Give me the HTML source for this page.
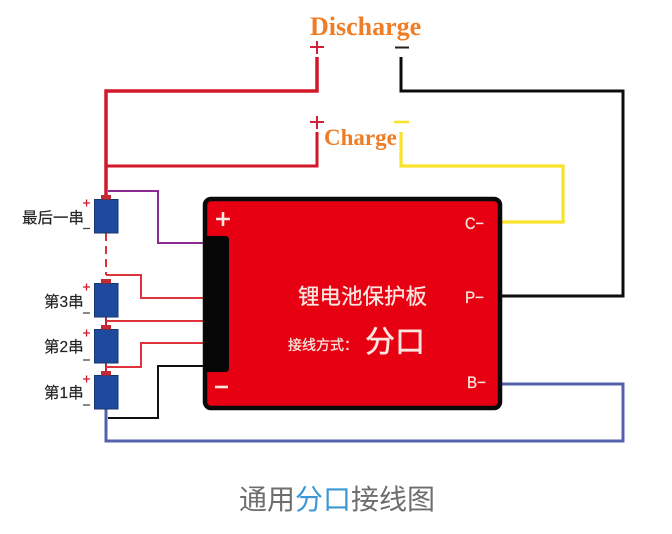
<!DOCTYPE html>
<html>
<head>
<meta charset="utf-8">
<style>
html,body{margin:0;padding:0;background:#fff;width:672px;height:534px;overflow:hidden}
svg{display:block}
.cn{font-family:"Liberation Sans","Noto Sans CJK SC",sans-serif}
.en{font-family:"Liberation Serif",serif;font-weight:bold;fill:#ee7d25}
</style>
</head>
<body>
<svg width="672" height="534" viewBox="0 0 672 534" xmlns="http://www.w3.org/2000/svg">
<!-- top wires -->
<g fill="none" stroke-linejoin="miter">
<path d="M317 57V91H106V195" stroke="#d2182a" stroke-width="3.5"/>
<path d="M317 132V166H106" stroke="#d2182a" stroke-width="3"/>
<path d="M401 57V91H623V296H502" stroke="#0c0c0c" stroke-width="3"/>
<path d="M401 132V166H563V222H502" stroke="#f9e228" stroke-width="3.2"/>
<path d="M108 191H158V243H204" stroke="#8c2a8e" stroke-width="2"/>
<path d="M106 233V275" stroke="#d8323c" stroke-width="2" stroke-dasharray="8 5"/>
<path d="M106 275H141V298H204" stroke="#e0323c" stroke-width="2"/>
<path d="M106 321H204" stroke="#e0323c" stroke-width="2"/>
<path d="M106 317V325M106 363V371" stroke="#b92a35" stroke-width="2"/>
<path d="M106 367H141V343H204" stroke="#e0323c" stroke-width="2"/>
<path d="M108 418H158V366H204" stroke="#111" stroke-width="2"/>
<path d="M106 409V441H623V384H502" stroke="#5560ad" stroke-width="3"/>
</g>
<!-- terminals -->
<g fill="none" stroke-width="2">
<path d="M310 47H324M317 41V54" stroke="#cf1f3a"/>
<path d="M395 47.500H409" stroke="#222"/>
<path d="M310 122H324M317 116V129" stroke="#cf1f3a"/>
<path d="M394 122H409" stroke="#f9e228" stroke-width="2.500"/>
</g>
<text x="310" y="35" class="en" font-size="26">Discharge</text>
<text x="324" y="145" class="en" font-size="23">Charge</text>
<!-- board -->
<rect x="205" y="199" width="295" height="209" rx="6" fill="#e60012" stroke="#0a0a0a" stroke-width="4.500"/>
<path d="M204 236H225Q229 236 229 240V368Q229 372 225 372H204Z" fill="#060606"/>
<path d="M216 219H230M223 212V226" stroke="#fbe9e0" stroke-width="2.600" fill="none"/>
<path d="M215 387H228" stroke="#fbe9e0" stroke-width="2.600" fill="none"/>
<g font-family="Liberation Sans,sans-serif" fill="#fbe3dc" font-size="17" stroke="#fbe3dc" stroke-width=".3">
<text x="465" y="229" textLength="19" lengthAdjust="spacingAndGlyphs">C−</text>
<text x="465" y="303" textLength="19" lengthAdjust="spacingAndGlyphs">P−</text>
<text x="467" y="388" textLength="19" lengthAdjust="spacingAndGlyphs">B−</text>
</g>
<text x="298" y="304" class="cn" font-size="21.500" fill="#fbe6df" stroke="#fbe6df" stroke-width=".3">锂电池保护板</text>
<text x="288" y="350" class="cn" font-size="14" fill="#fbe6df" stroke="#fbe6df" stroke-width=".3">接线方式：</text>
<text x="365" y="352" class="cn" font-size="30" fill="#fbe6df" stroke="#fbe6df" stroke-width=".5">分口</text>
<!-- batteries -->
<g fill="#1d4a9c" stroke="#16366f" stroke-width="1">
<rect x="94.500" y="199.500" width="23.500" height="33.500"/>
<rect x="94.500" y="283.500" width="23.500" height="33.500"/>
<rect x="94.500" y="329.500" width="23.500" height="33.500"/>
<rect x="94.500" y="375.500" width="23.500" height="33.500"/>
</g>
<g fill="#c22a35">
<rect x="101" y="195" width="10" height="4.500"/>
<rect x="101" y="279" width="10" height="4.500"/>
<rect x="101" y="325" width="10" height="4.500"/>
<rect x="101" y="371" width="10" height="4.500"/>
</g>
<!-- polarity marks -->
<g stroke-width="1.300" fill="none">
<path d="M83 203H90M86.500 199.500V206.500M83 287H90M86.500 283.500V290.500M83 333H90M86.500 329.500V336.500M83 379H90M86.500 375.500V382.500" stroke="#d2182a"/>
<path d="M83 228.500H90M83 313H90M83 360H90M83 405H90" stroke="#444"/>
</g>
<g class="cn" fill="#222" stroke="#222" stroke-width=".15">
<text x="22" y="223" font-size="15.500">最后一串</text>
<text x="44" y="307" font-size="15.500">第3串</text>
<text x="44" y="352" font-size="15.500">第2串</text>
<text x="44" y="398" font-size="15.500">第1串</text>
</g>
<!-- caption -->
<text x="239" y="509" class="cn" font-size="28" fill="#6e6e6e">通用<tspan fill="#3d97d3">分口</tspan>接线图</text>
</svg>
</body>
</html>
